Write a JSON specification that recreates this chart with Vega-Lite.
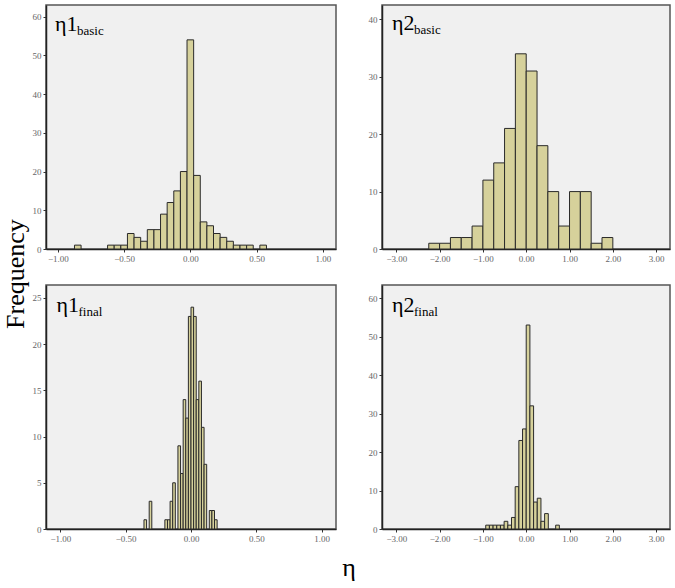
{
  "$schema": "https://vega.github.io/schema/vega-lite/v6.json",
  "padding": {"left": 3, "top": 4, "right": 5, "bottom": 5},
  "title": {"text": "η", "orient": "bottom", "anchor": "middle", "fontSize": 26, "font": "Liberation Serif", "fontWeight": "normal", "color": "#000", "offset": 11, "dx": 12},
  "vconcat": [
    {
      "title": {"text": "Frequency", "orient": "left", "anchor": "middle", "fontSize": 26, "font": "Liberation Serif", "fontWeight": "normal", "color": "#000", "offset": 2},
      "columns": 2,
      "spacing": {"row": 20, "column": 30},
      "concat": [
        {
          "width": 290, "height": 244,
          "layer": [
            {
              "data": {"name": "b1"},
              "mark": {"type": "bar", "fill": "#d6d19b", "stroke": "#2a2a2a", "strokeWidth": 1},
              "encoding": {
                "x": {"field": "start", "type": "quantitative", "scale": {"domain": [-1.09, 1.1], "nice": false, "zero": false}, "axis": {"values": [-1, -0.5, 0, 0.5, 1], "format": ".2f"}},
                "x2": {"field": "end"},
                "y": {"field": "count", "type": "quantitative", "scale": {"domain": [0, 63], "nice": false}, "axis": {"values": [0, 10, 20, 30, 40, 50, 60], "format": "d"}},
                "y2": {"datum": 0}
              }
            },
            {
              "data": {"values": [{"label": "η1", "sub": "basic"}]},
              "mark": {"type": "text", "align": "left", "baseline": "alphabetic", "fontSize": 22, "font": "Liberation Serif", "color": "#000"},
              "encoding": {"text": {"field": "label"}, "x": {"datum": -1.022}, "y": {"datum": 56.2}}
            },
            {
              "data": {"values": [{"label": "η1", "sub": "basic"}]},
              "mark": {"type": "text", "align": "left", "baseline": "alphabetic", "fontSize": 13, "font": "Liberation Serif", "color": "#000", "dx": 22, "dy": 4},
              "encoding": {"text": {"field": "sub"}, "x": {"datum": -1.022}, "y": {"datum": 56.2}}
            }
          ]
        },
        {
          "width": 288, "height": 244,
          "layer": [
            {
              "data": {"name": "b2"},
              "mark": {"type": "bar", "fill": "#d6d19b", "stroke": "#2a2a2a", "strokeWidth": 1},
              "encoding": {
                "x": {"field": "start", "type": "quantitative", "scale": {"domain": [-3.33, 3.32], "nice": false, "zero": false}, "axis": {"values": [-3, -2, -1, 0, 1, 2, 3], "format": ".2f"}},
                "x2": {"field": "end"},
                "y": {"field": "count", "type": "quantitative", "scale": {"domain": [0, 42.5], "nice": false}, "axis": {"values": [0, 10, 20, 30, 40], "format": "d"}},
                "y2": {"datum": 0}
              }
            },
            {
              "data": {"values": [{"label": "η2", "sub": "basic"}]},
              "mark": {"type": "text", "align": "left", "baseline": "alphabetic", "fontSize": 22, "font": "Liberation Serif", "color": "#000"},
              "encoding": {"text": {"field": "label"}, "x": {"datum": -3.1}, "y": {"datum": 38.1}}
            },
            {
              "data": {"values": [{"label": "η2", "sub": "basic"}]},
              "mark": {"type": "text", "align": "left", "baseline": "alphabetic", "fontSize": 13, "font": "Liberation Serif", "color": "#000", "dx": 22, "dy": 4},
              "encoding": {"text": {"field": "sub"}, "x": {"datum": -3.1}, "y": {"datum": 38.1}}
            }
          ]
        },
        {
          "width": 290, "height": 244,
          "layer": [
            {
              "data": {"name": "b3"},
              "mark": {"type": "bar", "fill": "#d6d19b", "stroke": "#2a2a2a", "strokeWidth": 1},
              "encoding": {
                "x": {"field": "start", "type": "quantitative", "scale": {"domain": [-1.11, 1.11], "nice": false, "zero": false}, "axis": {"values": [-1, -0.5, 0, 0.5, 1], "format": ".2f"}},
                "x2": {"field": "end"},
                "y": {"field": "count", "type": "quantitative", "scale": {"domain": [0, 26.4], "nice": false}, "axis": {"values": [0, 5, 10, 15, 20, 25], "format": "d"}},
                "y2": {"datum": 0}
              }
            },
            {
              "data": {"values": [{"label": "η1", "sub": "final"}]},
              "mark": {"type": "text", "align": "left", "baseline": "alphabetic", "fontSize": 22, "font": "Liberation Serif", "color": "#000"},
              "encoding": {"text": {"field": "label"}, "x": {"datum": -1.03}, "y": {"datum": 23.5}}
            },
            {
              "data": {"values": [{"label": "η1", "sub": "final"}]},
              "mark": {"type": "text", "align": "left", "baseline": "alphabetic", "fontSize": 13, "font": "Liberation Serif", "color": "#000", "dx": 22, "dy": 4},
              "encoding": {"text": {"field": "sub"}, "x": {"datum": -1.03}, "y": {"datum": 23.5}}
            }
          ]
        },
        {
          "width": 288, "height": 244,
          "layer": [
            {
              "data": {"name": "b4"},
              "mark": {"type": "bar", "fill": "#d6d19b", "stroke": "#2a2a2a", "strokeWidth": 1},
              "encoding": {
                "x": {"field": "start", "type": "quantitative", "scale": {"domain": [-3.33, 3.32], "nice": false, "zero": false}, "axis": {"values": [-3, -2, -1, 0, 1, 2, 3], "format": ".2f"}},
                "x2": {"field": "end"},
                "y": {"field": "count", "type": "quantitative", "scale": {"domain": [0, 63.4], "nice": false}, "axis": {"values": [0, 10, 20, 30, 40, 50, 60], "format": "d"}},
                "y2": {"datum": 0}
              }
            },
            {
              "data": {"values": [{"label": "η2", "sub": "final"}]},
              "mark": {"type": "text", "align": "left", "baseline": "alphabetic", "fontSize": 22, "font": "Liberation Serif", "color": "#000"},
              "encoding": {"text": {"field": "label"}, "x": {"datum": -3.1}, "y": {"datum": 56.5}}
            },
            {
              "data": {"values": [{"label": "η2", "sub": "final"}]},
              "mark": {"type": "text", "align": "left", "baseline": "alphabetic", "fontSize": 13, "font": "Liberation Serif", "color": "#000", "dx": 22, "dy": 4},
              "encoding": {"text": {"field": "sub"}, "x": {"datum": -3.1}, "y": {"datum": 56.5}}
            }
          ]
        }
      ]
    }
  ],
  "datasets": {
    "b1": [
      {"start": -0.875, "end": -0.825, "count": 1},
      {"start": -0.625, "end": -0.575, "count": 1},
      {"start": -0.575, "end": -0.525, "count": 1},
      {"start": -0.525, "end": -0.475, "count": 1},
      {"start": -0.475, "end": -0.425, "count": 4},
      {"start": -0.425, "end": -0.375, "count": 3},
      {"start": -0.375, "end": -0.325, "count": 2},
      {"start": -0.325, "end": -0.275, "count": 5},
      {"start": -0.275, "end": -0.225, "count": 5},
      {"start": -0.225, "end": -0.175, "count": 9},
      {"start": -0.175, "end": -0.125, "count": 12},
      {"start": -0.125, "end": -0.075, "count": 15},
      {"start": -0.075, "end": -0.025, "count": 20},
      {"start": -0.025, "end": 0.025, "count": 54},
      {"start": 0.025, "end": 0.075, "count": 19},
      {"start": 0.075, "end": 0.125, "count": 7},
      {"start": 0.125, "end": 0.175, "count": 6},
      {"start": 0.175, "end": 0.225, "count": 4},
      {"start": 0.225, "end": 0.275, "count": 3},
      {"start": 0.275, "end": 0.325, "count": 2},
      {"start": 0.325, "end": 0.375, "count": 1},
      {"start": 0.375, "end": 0.425, "count": 1},
      {"start": 0.425, "end": 0.475, "count": 1},
      {"start": 0.525, "end": 0.575, "count": 1}
    ],
    "b2": [
      {"start": -2.25, "end": -2.0, "count": 1},
      {"start": -2.0, "end": -1.75, "count": 1},
      {"start": -1.75, "end": -1.5, "count": 2},
      {"start": -1.5, "end": -1.25, "count": 2},
      {"start": -1.25, "end": -1.0, "count": 4},
      {"start": -1.0, "end": -0.75, "count": 12},
      {"start": -0.75, "end": -0.5, "count": 15},
      {"start": -0.5, "end": -0.25, "count": 21},
      {"start": -0.25, "end": 0.0, "count": 34},
      {"start": 0.0, "end": 0.25, "count": 31},
      {"start": 0.25, "end": 0.5, "count": 18},
      {"start": 0.5, "end": 0.75, "count": 10},
      {"start": 0.75, "end": 1.0, "count": 4},
      {"start": 1.0, "end": 1.25, "count": 10},
      {"start": 1.25, "end": 1.5, "count": 10},
      {"start": 1.5, "end": 1.75, "count": 1},
      {"start": 1.75, "end": 2.0, "count": 2}
    ],
    "b3": [
      {"start": -0.36, "end": -0.34, "count": 1},
      {"start": -0.32, "end": -0.30, "count": 3},
      {"start": -0.20, "end": -0.18, "count": 1},
      {"start": -0.18, "end": -0.16, "count": 1},
      {"start": -0.16, "end": -0.14, "count": 3},
      {"start": -0.14, "end": -0.12, "count": 5},
      {"start": -0.10, "end": -0.08, "count": 9},
      {"start": -0.08, "end": -0.06, "count": 6},
      {"start": -0.06, "end": -0.04, "count": 14},
      {"start": -0.04, "end": -0.02, "count": 12},
      {"start": -0.02, "end": 0.0, "count": 23},
      {"start": 0.0, "end": 0.02, "count": 24},
      {"start": 0.02, "end": 0.04, "count": 23},
      {"start": 0.04, "end": 0.06, "count": 14},
      {"start": 0.06, "end": 0.08, "count": 16},
      {"start": 0.08, "end": 0.10, "count": 11},
      {"start": 0.10, "end": 0.12, "count": 7},
      {"start": 0.14, "end": 0.16, "count": 2},
      {"start": 0.16, "end": 0.18, "count": 2},
      {"start": 0.18, "end": 0.20, "count": 1}
    ],
    "b4": [
      {"start": -0.935, "end": -0.85, "count": 1},
      {"start": -0.85, "end": -0.765, "count": 1},
      {"start": -0.765, "end": -0.68, "count": 1},
      {"start": -0.68, "end": -0.595, "count": 1},
      {"start": -0.595, "end": -0.51, "count": 1},
      {"start": -0.51, "end": -0.425, "count": 2},
      {"start": -0.425, "end": -0.34, "count": 1},
      {"start": -0.34, "end": -0.255, "count": 3},
      {"start": -0.255, "end": -0.17, "count": 11},
      {"start": -0.17, "end": -0.085, "count": 23},
      {"start": -0.085, "end": 0.0, "count": 26},
      {"start": 0.0, "end": 0.085, "count": 53},
      {"start": 0.085, "end": 0.17, "count": 32},
      {"start": 0.17, "end": 0.255, "count": 7},
      {"start": 0.255, "end": 0.34, "count": 8},
      {"start": 0.34, "end": 0.425, "count": 2},
      {"start": 0.425, "end": 0.51, "count": 4},
      {"start": 0.68, "end": 0.765, "count": 1}
    ]
  },
  "config": {
    "font": "Liberation Serif",
    "view": {"fill": "#f0f0f0", "stroke": "#555", "strokeWidth": 1.5},
    "axis": {"grid": false, "title": null, "labelFont": "Liberation Serif", "labelFontSize": 9, "labelColor": "#666", "domainColor": "#222", "domainWidth": 1.5, "tickColor": "#333", "tickSize": 3, "labelPadding": 2}
  }
}
